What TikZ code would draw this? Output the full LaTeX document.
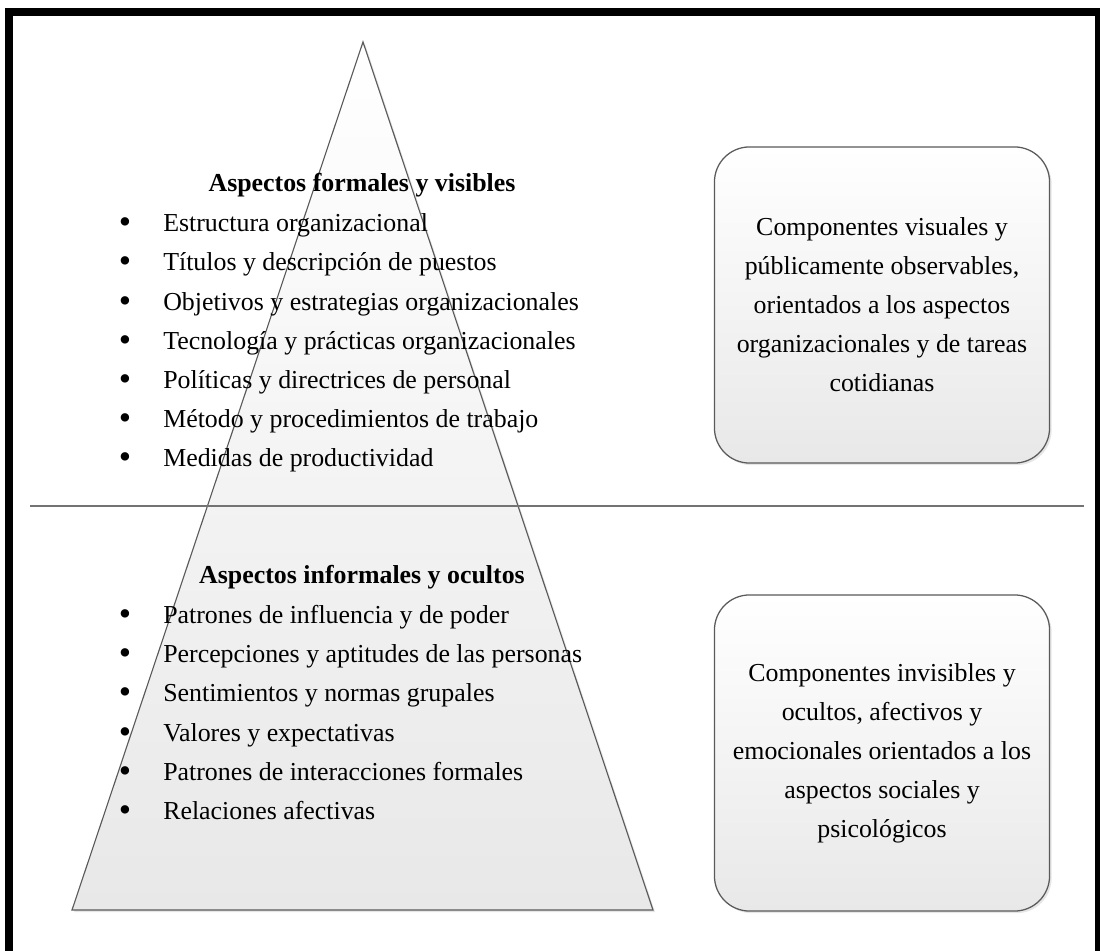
\documentclass[tikz,border=0pt]{standalone}
\usepackage{fontspec}
\setmainfont{Liberation Serif}
\usepackage{tikz}
\usetikzlibrary{positioning,shadows}
\definecolor{LineGray}{RGB}{90,90,90}
\tikzset{
    sidebox/.style={draw=LineGray, line width=0.9pt, rounded corners=0.875cm, top color=white, bottom color=black!9,
        minimum width=8.375cm, minimum height=7.9cm, align=center, inner sep=0pt,
        font=\fontsize{18.4}{27.7}\selectfont,
        drop shadow={opacity=0.2, shadow xshift=1.5pt, shadow yshift=-1.5pt}},
    pyramid/.style={draw=LineGray, line width=0.8pt, top color=white, bottom color=black!9,
        drop shadow={opacity=0.2, shadow xshift=1.5pt, shadow yshift=-1.5pt}}
}
\begin{document}
\begin{tikzpicture}[
        x=0.025cm, y=-0.025cm,
        % Estilo de los títulos dentro de la pirámide
        blocktitle/.style={
            font=\fontsize{18.4}{22}\selectfont\bfseries,
            anchor=mid, inner sep=0pt
        },
        % Estilo de cada renglón de la lista
        itemtext/.style={
            font=\fontsize{18.4}{22}\selectfont,
            anchor=mid west, inner sep=0pt
        },
        % Viñeta
        bulletdot/.style={
            font=\fontsize{25}{25}\selectfont,
            anchor=center, inner sep=0pt, yshift=0.05cm
        },
        % Marco y línea divisoria
        frameline/.style={draw=black, line width=0.2cm},
        divider/.style={draw=black!55, line width=1.4pt}
    ]

        \useasboundingbox (0,0) rectangle (1100,951);
        \clip (0,0) rectangle (1100,951);

        % --- 1. PIRÁMIDE ---
        \coordinate (apex) at (363,42);
        \coordinate (baseL) at (72,910);
        \coordinate (baseR) at (653,910);
        \draw[pyramid] (apex) -- (baseR) -- (baseL) -- cycle;

        % --- 2. LÍNEA DIVISORIA ---
        \coordinate (lineL) at (30,506);
        \coordinate (lineR) at (1084,506);
        \draw[divider] (lineL) -- (lineR);

        % --- 3. ASPECTOS FORMALES ---
        \node[blocktitle] (formal) at (362,188) {Aspectos formales y visibles};
        \node[bulletdot] (fb1) at (125,228) {\textbullet}; \node[itemtext] (fi1) at (163,228) {Estructura organizacional};
        \node[bulletdot] (fb2) at (125,267) {\textbullet}; \node[itemtext] (fi2) at (163,267) {Títulos y descripción de puestos};
        \node[bulletdot] (fb3) at (125,307) {\textbullet}; \node[itemtext] (fi3) at (163,307) {Objetivos y estrategias organizacionales};
        \node[bulletdot] (fb4) at (125,346) {\textbullet}; \node[itemtext] (fi4) at (163,346) {Tecnología y prácticas organizacionales};
        \node[bulletdot] (fb5) at (125,385) {\textbullet}; \node[itemtext] (fi5) at (163,385) {Políticas y directrices de personal};
        \node[bulletdot] (fb6) at (125,424) {\textbullet}; \node[itemtext] (fi6) at (163,424) {Método y procedimientos de trabajo};
        \node[bulletdot] (fb7) at (125,463) {\textbullet}; \node[itemtext] (fi7) at (163,463) {Medidas de productividad};

        % --- 4. ASPECTOS INFORMALES ---
        \node[blocktitle] (informal) at (362,580) {Aspectos informales y ocultos};
        \node[bulletdot] (ib1) at (125,620) {\textbullet}; \node[itemtext] (ii1) at (163,620) {Patrones de influencia y de poder};
        \node[bulletdot] (ib2) at (125,659) {\textbullet}; \node[itemtext] (ii2) at (163,659) {Percepciones y aptitudes de las personas};
        \node[bulletdot] (ib3) at (125,698) {\textbullet}; \node[itemtext] (ii3) at (163,698) {Sentimientos y normas grupales};
        \node[bulletdot] (ib4) at (125,738) {\textbullet}; \node[itemtext] (ii4) at (163,738) {Valores y expectativas};
        \node[bulletdot] (ib5) at (125,777) {\textbullet}; \node[itemtext] (ii5) at (163,777) {Patrones de interacciones formales};
        \node[bulletdot] (ib6) at (125,816) {\textbullet}; \node[itemtext] (ii6) at (163,816) {Relaciones afectivas};

        % --- 5. CUADROS LATERALES ---
        \node[sidebox] (visible) at (882,305) {Componentes visuales y\\ públicamente observables,\\ orientados a los aspectos\\ organizacionales y de tareas\\ cotidianas};
        \node[sidebox] (hidden) at (882,753) {Componentes invisibles y\\ ocultos, afectivos y\\ emocionales orientados a los\\ aspectos sociales y\\ psicológicos};

        % --- 6. MARCO ---
        \draw[frameline] (9,12) rectangle (1099,970);

    \end{tikzpicture}
\end{document}
